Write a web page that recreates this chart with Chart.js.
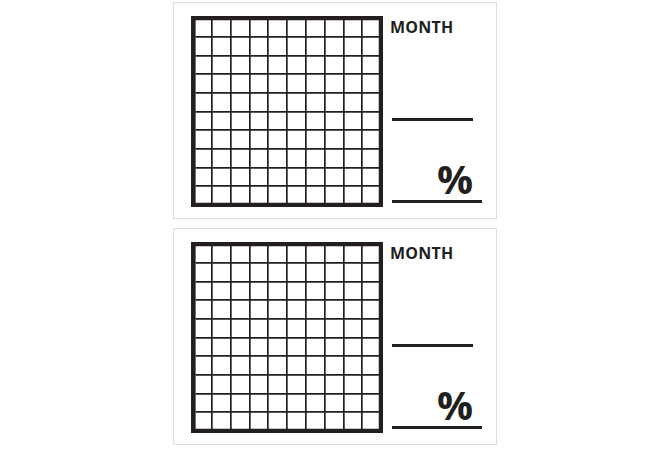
<!DOCTYPE html>
<html>
<head>
<meta charset="utf-8">
<script src="https://cdn.jsdelivr.net/npm/chart.js@4.4.1/dist/chart.umd.min.js"></script>
<style>
  html, body { margin:0; padding:0; background:#ffffff; width:670px; height:455px; overflow:hidden; }
  .panel { position:absolute; box-sizing:border-box; border:1.5px solid #dcdcea; background:#fff; }
  .gridbox { position:absolute; }
  .lbl { position:absolute; font-family:"Open Sans", sans-serif; font-weight:700; color:#231f20; line-height:1; white-space:nowrap; }
  .rule { position:absolute; background:#231f20; }
</style>
</head>
<body>
<script>
// ---- data ----
const panelLabels = ['MONTH', 'MONTH'];
const percentLabels = ['%', '%'];
const xTicks = [0, 1, 2, 3, 4, 5, 6, 7, 8, 9, 10];
const yTicks = [0, 1, 2, 3, 4, 5, 6, 7, 8, 9, 10];
const shadedCells = [[], []]; // blank worksheet: no cells filled

const ink = '#231f20';
const panelTops = [2, 228];

panelLabels.forEach((label, i) => {
  const top = panelTops[i];
  const panel = document.createElement('div');
  panel.className = 'panel';
  Object.assign(panel.style, { left: '173px', top: top + 'px', width: '324px', height: '217px' });
  document.body.appendChild(panel);

  const wrap = document.createElement('div');
  wrap.className = 'gridbox';
  Object.assign(wrap.style, { left: '191px', top: (top + 14) + 'px', width: '192px', height: '191px' });
  const cv = document.createElement('canvas');
  wrap.appendChild(cv);
  document.body.appendChild(wrap);

  const m = document.createElement('div');
  m.className = 'lbl';
  m.textContent = label;
  Object.assign(m.style, { left: '390px', top: (top + 17) + 'px', fontSize: '16px', letterSpacing: '0.2px' });
  document.body.appendChild(m);

  const p = document.createElement('div');
  p.className = 'lbl';
  p.textContent = percentLabels[i];
  Object.assign(p.style, { left: '437px', top: (top + 157) + 'px', fontSize: '40px' });
  document.body.appendChild(p);

  const r1 = document.createElement('div');
  r1.className = 'rule';
  Object.assign(r1.style, { left: '392px', top: (top + 115.5) + 'px', width: '81px', height: '3px' });
  document.body.appendChild(r1);

  const r2 = document.createElement('div');
  r2.className = 'rule';
  Object.assign(r2.style, { left: '392px', top: (top + 198) + 'px', width: '90px', height: '3px' });
  document.body.appendChild(r2);

  new Chart(cv, {
    type: 'scatter',
    data: { datasets: [{ data: shadedCells[i], pointRadius: 0 }] },
    options: {
      responsive: true,
      maintainAspectRatio: false,
      animation: false,
      layout: { padding: 2 },
      plugins: { legend: { display: false }, tooltip: { enabled: false } },
      scales: {
        x: {
          type: 'linear', min: xTicks[0], max: xTicks[xTicks.length - 1],
          afterBuildTicks: (s) => { s.ticks = xTicks.map(v => ({ value: v })); },
          ticks: { display: false },
          grid: { color: ink, lineWidth: 1.7, drawTicks: false },
          border: { display: true, color: ink, width: 4.5 }
        },
        y: {
          type: 'linear', min: yTicks[0], max: yTicks[yTicks.length - 1],
          afterBuildTicks: (s) => { s.ticks = yTicks.map(v => ({ value: v })); },
          ticks: { display: false },
          grid: { color: ink, lineWidth: 1.7, drawTicks: false },
          border: { display: true, color: ink, width: 4.5 }
        }
      }
    },
    plugins: [{
      id: 'frame',
      afterDraw(chart) {
        const { ctx, chartArea: a } = chart;
        ctx.save();
        ctx.strokeStyle = ink;
        ctx.lineWidth = 4.5;
        ctx.strokeRect(a.left, a.top, a.right - a.left, a.bottom - a.top);
        ctx.restore();
      }
    }]
  });
});
</script>
</body>
</html>
